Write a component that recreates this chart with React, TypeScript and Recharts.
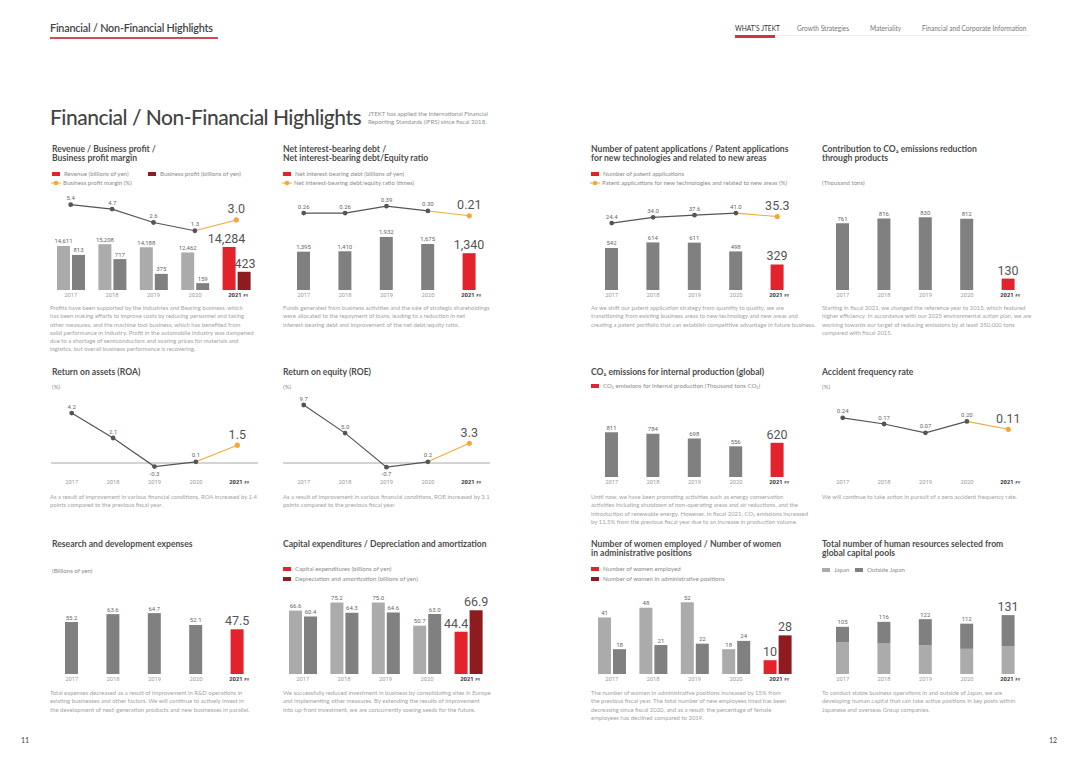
import React from 'react';
import { ComposedChart, Bar, Line, XAxis, YAxis, Cell, LabelList, ReferenceLine } from 'recharts';

// fiscal years shown on every chart (2021 is highlighted)
const years = ['2017', '2018', '2019', '2020', '2021'];

// row 1
const revenue = [14611, 15208, 14188, 12462, 14284];
const businessProfit = [813, 717, 375, 159, 423];
const profitMargin = [5.4, 4.7, 2.6, 1.3, 3.0];
const netDebt = [1395, 1410, 1932, 1675, 1340];
const debtEquity = [0.26, 0.26, 0.39, 0.3, 0.21];
const patents = [542, 614, 611, 498, 329];
const patentNewShare = [24.4, 34.0, 37.6, 41.0, 35.3];
const co2Reduction = [761, 816, 830, 812, 130];

// row 2
const roa = [4.2, 2.1, -0.3, 0.1, 1.5];
const roe = [9.7, 5.0, -0.7, 0.2, 3.3];
const co2Internal = [811, 784, 698, 556, 620];
const accidentRate = [0.24, 0.17, 0.07, 0.2, 0.11];

// row 3
const rnd = [55.2, 63.6, 64.7, 52.1, 47.5];
const capex = [66.6, 75.2, 75.0, 50.7, 44.4];
const depreciation = [60.4, 64.3, 64.6, 63.0, 66.9];
const womenEmployed = [41, 48, 52, 18, 10];
const womenAdmin = [18, 21, 22, 24, 28];
const poolJapan = [71, 69, 64, 56, 62];
const poolOverseas = [34, 47, 58, 56, 69];
const poolTotal = [105, 116, 122, 112, 131];

const RED = '#e3232c';
const DARK_RED = '#8e1b1f';
const LIGHT = '#ababab';
const MID = '#808080';
const LINE = '#555555';
const ORANGE = '#f2a93b';
const FONT = "Lato, 'Open Sans', sans-serif";
const NUM = "Roboto, 'Liberation Sans', sans-serif";
const MT = 14; // headroom above each plot for value labels

const table = (cols: Record<string, number[]>) =>
  years.map((year, i) => {
    const row: Record<string, string | number | null> = { year };
    Object.entries(cols).forEach(([k, vals]) => {
      row[k] = vals[i];
      row[k + 'Base'] = i < 4 ? vals[i] : null;
      row[k + 'Hi'] = i >= 3 ? vals[i] : null;
    });
    return row;
  });

const comma = (v: number) => v.toLocaleString('en-US');
const f1 = (v: number) => v.toFixed(1);
const f2 = (v: number) => v.toFixed(2);
const int = (v: number) => String(v);

const YearTick = (p: any) => {
  const { x, y, payload } = p;
  if (payload.value === '2021') {
    return (
      <text x={x - 8} y={y} dy="0.71em" fontFamily={NUM} fontSize={5.8} fill="#333" fontWeight={700}>
        2021
        <tspan fontSize={3.8} dx={2}>FY</tspan>
      </text>
    );
  }
  return (
    <text x={x} y={y} dy="0.71em" textAnchor="middle" fontFamily={NUM} fontSize={5.8} fill="#9a9a9a">
      {payload.value}
    </text>
  );
};

const valueLabel =
  (fmt: (v: number) => string, bigDx = 0, which: 'all' | 'base' | 'hi' = 'all') =>
  (p: any) => {
    const vb = p.viewBox ?? {};
    const x = vb.x ?? p.x;
    const y = vb.y ?? p.y;
    const w = vb.width ?? p.width ?? 0;
    const v = p.value;
    if (v == null || x == null || y == null || Number.isNaN(y)) return null;
    if (which === 'base' && p.index >= 4) return null;
    if (which === 'hi' && p.index !== 4) return null;
    const cx = x + w / 2;
    if (p.index === 4) {
      return (
        <text x={cx + bigDx} y={y - (w ? 4 : 6.5)} textAnchor="middle" fontFamily={NUM} fontSize={12.5} fill="#555">
          {fmt(v)}
        </text>
      );
    }
    const below = v < 0;
    return (
      <text x={cx} y={below ? y + 9 : y - (w ? 2.5 : 4.5)} textAnchor="middle" fontFamily={NUM} fontSize={6} fill="#666">
        {fmt(v)}
      </text>
    );
  };

type BarSpec = {
  key: string;
  axis: string;
  fill: string;
  hi: string;
  fmt?: (v: number) => string;
  bigDx?: number;
  stack?: string;
  labelKey?: string;
  noLabel?: boolean;
};

type ChartProps = {
  left: number;
  top: number;
  h: number;
  data: Record<string, string | number | null>[];
  domains: Record<string, [number, number]>;
  bars?: BarSpec[];
  line?: { key: string; fmt: (v: number) => string };
  zero?: boolean;
};

function MiniChart({ left, top, h, data, domains, bars = [], line, zero }: ChartProps) {
  return (
    <div style={{ position: 'absolute', left, top: top - MT }}>
      <ComposedChart width={207} height={h + 16 + MT} data={data} margin={{ top: MT, right: 0, bottom: 0, left: 0 }} barGap={2}>
        <XAxis
          dataKey="year"
          scale="band"
          height={16}
          tickLine={false}
          axisLine={false}
          tickSize={0}
          tickMargin={3}
          interval={0}
          tick={<YearTick />}
        />
        {Object.entries(domains).map(([id, d]) => (
          <YAxis key={id} yAxisId={id} hide domain={d} allowDataOverflow />
        ))}
        {zero && <ReferenceLine yAxisId="line" y={0} stroke="#c6c6c6" strokeWidth={1.5} />}
        {bars.map((b) => (
          <Bar key={b.key} dataKey={b.key} yAxisId={b.axis} stackId={b.stack} barSize={13} fill={b.fill} isAnimationActive={false}>
            {data.map((_, i) => (
              <Cell key={i} fill={i === 4 ? b.hi : b.fill} />
            ))}
            {!b.noLabel && <LabelList dataKey={b.labelKey ?? b.key} content={valueLabel(b.fmt ?? int, b.bigDx ?? 0)} />}
          </Bar>
        ))}
        {line && (
          <Line
            yAxisId="line"
            dataKey={line.key + 'Base'}
            stroke={LINE}
            strokeWidth={1.2}
            dot={{ r: 2.4, fill: LINE, stroke: LINE, strokeWidth: 0 }}
            isAnimationActive={false}
          >
            <LabelList dataKey={line.key + 'Base'} content={valueLabel(line.fmt, 0, 'base')} />
          </Line>
        )}
        {line && (
          <Line
            yAxisId="line"
            dataKey={line.key + 'Hi'}
            stroke={ORANGE}
            strokeWidth={1.1}
            dot={(p: any) =>
              p.index === 4 ? <circle key="hi-dot" cx={p.cx} cy={p.cy} r={2.6} fill={ORANGE} /> : <g key={`n${p.index}`} />
            }
            isAnimationActive={false}
          >
            <LabelList dataKey={line.key + 'Hi'} content={valueLabel(line.fmt, 0, 'hi')} />
          </Line>
        )}
      </ComposedChart>
    </div>
  );
}

const Title = ({ x, y, lines }: { x: number; y: number; lines: string[] }) => (
  <div style={{ position: 'absolute', left: x, top: y, fontFamily: FONT, fontWeight: 700, fontSize: 8.6, lineHeight: '9.4px', color: '#4d4d4d', whiteSpace: 'nowrap' }}>
    {lines.map((l) => (
      <div key={l}>{l}</div>
    ))}
  </div>
);

const Small = ({ x, y, children, c = '#8a8a8a', s = 6.1 }: { x: number; y: number; children: React.ReactNode; c?: string; s?: number }) => (
  <div style={{ position: 'absolute', left: x, top: y - 4, fontFamily: FONT, fontSize: s, lineHeight: '8px', color: c, whiteSpace: 'nowrap' }}>
    {children}
  </div>
);

const Swatch = ({ x, y, color, label }: { x: number; y: number; color: string; label: string }) => (
  <>
    <div style={{ position: 'absolute', left: x, top: y - 2.2, width: 8, height: 4.5, background: color }} />
    <Small x={x + 12} y={y}>{label}</Small>
  </>
);

const LineKey = ({ x, y, label }: { x: number; y: number; label: string }) => (
  <>
    <svg style={{ position: 'absolute', left: x, top: y - 3 }} width={10} height={6}>
      <line x1={0} y1={3} x2={10} y2={3} stroke={ORANGE} strokeWidth={1} />
      <circle cx={5} cy={3} r={2.3} fill={ORANGE} />
    </svg>
    <Small x={x + 12} y={y}>{label}</Small>
  </>
);

const Desc = ({ x, y, lines }: { x: number; y: number; lines: string[] }) => (
  <div style={{ position: 'absolute', left: x, top: y, fontFamily: FONT, fontSize: 5.95, lineHeight: '8.3px', color: '#a3a3a3', whiteSpace: 'nowrap' }}>
    {lines.map((l) => (
      <div key={l}>{l}</div>
    ))}
  </div>
);

export default function App() {
  return (
    <div style={{ position: 'absolute', left: 0, top: 0, width: 1080, height: 764, background: '#fff', overflow: 'hidden', fontFamily: FONT }}>
      {/* running header */}
      <div style={{ position: 'absolute', left: 50, top: 21, fontSize: 10.8, fontWeight: 600, color: '#444', whiteSpace: 'nowrap', letterSpacing: -0.2 }}>
        Financial / Non-Financial Highlights
      </div>
      <div style={{ position: 'absolute', left: 50, top: 37, width: 168, height: 2, background: '#d24a54' }} />
      <div style={{ position: 'absolute', left: 735, top: 35, width: 295, height: 1, background: '#eeeeee' }} />
      <div style={{ position: 'absolute', left: 735, top: 35, width: 40, height: 3, background: '#d2343e' }} />
      <Small x={735} y={28} c="#333" s={6.6}>WHAT'S JTEKT</Small>
      <Small x={797} y={28} c="#777" s={6.6}>Growth Strategies</Small>
      <Small x={870} y={28} c="#777" s={6.6}>Materiality</Small>
      <Small x={922} y={28} c="#777" s={6.6}>Financial and Corporate Information</Small>

      {/* page title */}
      <div style={{ position: 'absolute', left: 50, top: 104, fontSize: 21, fontWeight: 500, color: '#444', whiteSpace: 'nowrap', letterSpacing: -0.5 }}>
        Financial / Non-Financial Highlights
      </div>
      <div style={{ position: 'absolute', left: 368, top: 110, fontSize: 6.1, lineHeight: '8px', color: '#8f8f8f', whiteSpace: 'nowrap' }}>
        <div>JTEKT has applied the International Financial</div>
        <div>Reporting Standards (IFRS) since fiscal 2018.</div>
      </div>

      {/* row 1 */}
      <Title x={52} y={145} lines={['Revenue / Business profit /', 'Business profit margin']} />
      <Swatch x={52} y={174} color={RED} label="Revenue (billions of yen)" />
      <Swatch x={148} y={174} color={DARK_RED} label="Business profit (billions of yen)" />
      <LineKey x={51} y={183} label="Business profit margin (%)" />
      <MiniChart
        left={50}
        top={190}
        h={100}
        data={table({ revenue, businessProfit, profitMargin })}
        domains={{ rev: [0, 33200], bp: [0, 2320], line: [-8.0, 7.7] }}
        bars={[
          { key: 'revenue', axis: 'rev', fill: LIGHT, hi: RED, fmt: comma, bigDx: -2.5 },
          { key: 'businessProfit', axis: 'bp', fill: MID, hi: DARK_RED, fmt: comma, bigDx: 1 },
        ]}
        line={{ key: 'profitMargin', fmt: f1 }}
      />
      <Desc
        x={50}
        y={304}
        lines={[
          'Profits have been supported by the Industries and Bearing business, which',
          'has been making efforts to improve costs by reducing personnel and taking',
          'other measures, and the machine tool business, which has benefited from',
          'solid performance in Industry. Profit in the automobile industry was dampened',
          'due to a shortage of semiconductors and soaring prices for materials and',
          'logistics, but overall business performance is recovering.',
        ]}
      />

      <Title x={283} y={145} lines={['Net interest-bearing debt /', 'Net interest-bearing debt/Equity ratio']} />
      <Swatch x={283} y={174} color={RED} label="Net interest-bearing debt (billions of yen)" />
      <LineKey x={282} y={183} label="Net interest-bearing debt/equity ratio (times)" />
      <MiniChart
        left={283}
        top={190}
        h={100}
        data={table({ netDebt, debtEquity })}
        domains={{ debt: [0, 3640], line: [-1.17, 0.69] }}
        bars={[{ key: 'netDebt', axis: 'debt', fill: MID, hi: RED, fmt: comma }]}
        line={{ key: 'debtEquity', fmt: f2 }}
      />
      <Desc
        x={283}
        y={304}
        lines={[
          'Funds generated from business activities and the sale of strategic shareholdings',
          'were allocated to the repayment of loans, leading to a reduction in net',
          'interest-bearing debt and improvement of the net debt/equity ratio.',
        ]}
      />

      <Title x={591} y={145} lines={['Number of patent applications / Patent applications', 'for new technologies and related to new areas']} />
      <Swatch x={591} y={174} color={RED} label="Number of patent applications" />
      <LineKey x={590} y={183} label="Patent applications for new technologies and related to new areas (%)" />
      <MiniChart
        left={591}
        top={190}
        h={100}
        data={table({ patents, patentNewShare })}
        domains={{ pat: [0, 1290], line: [-87, 79.5] }}
        bars={[{ key: 'patents', axis: 'pat', fill: MID, hi: RED }]}
        line={{ key: 'patentNewShare', fmt: f1 }}
      />
      <Desc
        x={591}
        y={304}
        lines={[
          'As we shift our patent application strategy from quantity to quality, we are',
          'transitioning from existing business areas to new technology and new areas and',
          'creating a patent portfolio that can establish competitive advantage in future business.',
        ]}
      />

      <Title x={822} y={145} lines={['Contribution to CO₂ emissions reduction', 'through products']} />
      <Small x={822} y={183}>(Thousand tons)</Small>
      <MiniChart
        left={822}
        top={190}
        h={100}
        data={table({ co2Reduction })}
        domains={{ co2: [0, 1140] }}
        bars={[{ key: 'co2Reduction', axis: 'co2', fill: MID, hi: RED }]}
      />
      <Desc
        x={822}
        y={304}
        lines={[
          'Starting in fiscal 2021, we changed the reference year to 2015, which featured',
          'higher efficiency. In accordance with our 2025 environmental action plan, we are',
          'working towards our target of reducing emissions by at least 350,000 tons',
          'compared with fiscal 2015.',
        ]}
      />

      {/* row 2 */}
      <Title x={52} y={368} lines={['Return on assets (ROA)']} />
      <Small x={52} y={387}>(%)</Small>
      <MiniChart left={51} top={397} h={80} data={table({ roa })} domains={{ line: [-1.18, 5.55] }} line={{ key: 'roa', fmt: f1 }} zero />
      <Desc
        x={50}
        y={493}
        lines={['As a result of improvement in various financial conditions, ROA increased by 1.4', 'points compared to the previous fiscal year.']}
      />

      <Title x={283} y={368} lines={['Return on equity (ROE)']} />
      <Small x={283} y={387}>(%)</Small>
      <MiniChart left={283} top={397} h={80} data={table({ roe })} domains={{ line: [-2.34, 11.04] }} line={{ key: 'roe', fmt: f1 }} zero />
      <Desc
        x={283}
        y={493}
        lines={['As a result of improvement in various financial conditions, ROE increased by 3.1', 'points compared to the previous fiscal year.']}
      />

      <Title x={591} y={368} lines={['CO₂ emissions for internal production (global)']} />
      <Swatch x={591} y={386} color={RED} label="CO₂ emissions for internal production (Thousand tons CO₂)" />
      <MiniChart
        left={591}
        top={397}
        h={80}
        data={table({ co2Internal })}
        domains={{ co2: [0, 1450] }}
        bars={[{ key: 'co2Internal', axis: 'co2', fill: MID, hi: RED }]}
      />
      <Desc
        x={591}
        y={493}
        lines={[
          'Until now, we have been promoting activities such as energy conservation',
          'activities including shutdown of non-operating areas and air reductions, and the',
          'introduction of renewable energy. However, in fiscal 2021, CO₂ emissions increased',
          'by 11.5% from the previous fiscal year due to an increase in production volume.',
        ]}
      />

      <Title x={822} y={368} lines={['Accident frequency rate']} />
      <Small x={822} y={387}>(%)</Small>
      <MiniChart left={822} top={397} h={80} data={table({ accidentRate })} domains={{ line: [-0.432, 0.477] }} line={{ key: 'accidentRate', fmt: f2 }} />
      <Desc x={822} y={493} lines={['We will continue to take action in pursuit of a zero accident frequency rate.']} />

      {/* row 3 */}
      <Title x={52} y={540} lines={['Research and development expenses']} />
      <Small x={52} y={571}>(Billions of yen)</Small>
      <MiniChart
        left={51}
        top={594}
        h={80}
        data={table({ rnd })}
        domains={{ rnd: [0, 85] }}
        bars={[{ key: 'rnd', axis: 'rnd', fill: MID, hi: RED, fmt: f1 }]}
      />
      <Desc
        x={50}
        y={689}
        lines={[
          'Total expenses decreased as a result of improvement in R&D operations in',
          'existing businesses and other factors. We will continue to actively invest in',
          'the development of next-generation products and new businesses in parallel.',
        ]}
      />

      <Title x={283} y={540} lines={['Capital expenditures / Depreciation and amortization']} />
      <Swatch x={283} y={569} color={RED} label="Capital expenditures (billions of yen)" />
      <Swatch x={283} y={579} color={DARK_RED} label="Depreciation and amortization (billions of yen)" />
      <MiniChart
        left={282}
        top={594}
        h={80}
        data={table({ capex, depreciation })}
        domains={{ cap: [0, 84] }}
        bars={[
          { key: 'capex', axis: 'cap', fill: LIGHT, hi: RED, fmt: f1, bigDx: -5 },
          { key: 'depreciation', axis: 'cap', fill: MID, hi: DARK_RED, fmt: f1 },
        ]}
      />
      <Desc
        x={283}
        y={689}
        lines={[
          'We successfully reduced investment in business by consolidating sites in Europe',
          'and implementing other measures. By extending the results of improvement',
          'into up-front investment, we are concurrently sowing seeds for the future.',
        ]}
      />

      <Title x={591} y={540} lines={['Number of women employed / Number of women', 'in administrative positions']} />
      <Swatch x={591} y={569} color={RED} label="Number of women employed" />
      <Swatch x={591} y={579} color={DARK_RED} label="Number of women in administrative positions" />
      <MiniChart
        left={591}
        top={594}
        h={80}
        data={table({ womenEmployed, womenAdmin })}
        domains={{ w: [0, 58] }}
        bars={[
          { key: 'womenEmployed', axis: 'w', fill: LIGHT, hi: RED },
          { key: 'womenAdmin', axis: 'w', fill: MID, hi: DARK_RED },
        ]}
      />
      <Desc
        x={591}
        y={689}
        lines={[
          'The number of women in administrative positions increased by 15% from',
          'the previous fiscal year. The total number of new employees hired has been',
          'decreasing since fiscal 2020, and as a result, the percentage of female',
          'employees has declined compared to 2019.',
        ]}
      />

      <Title x={822} y={540} lines={['Total number of human resources selected from', 'global capital pools']} />
      <Swatch x={822} y={570} color={LIGHT} label="Japan" />
      <Swatch x={855} y={570} color={MID} label="Outside Japan" />
      <MiniChart
        left={822}
        top={594}
        h={80}
        data={table({ poolJapan, poolOverseas, poolTotal })}
        domains={{ pool: [0, 178] }}
        bars={[
          { key: 'poolJapan', axis: 'pool', stack: 'p', fill: LIGHT, hi: LIGHT, noLabel: true },
          { key: 'poolOverseas', axis: 'pool', stack: 'p', fill: MID, hi: MID, labelKey: 'poolTotal' },
        ]}
      />
      <Desc
        x={822}
        y={689}
        lines={[
          'To conduct stable business operations in and outside of Japan, we are',
          'developing human capital that can take active positions in key posts within',
          'Japanese and overseas Group companies.',
        ]}
      />

      <div style={{ position: 'absolute', left: 21, top: 736, fontSize: 7, color: '#444' }}>11</div>
      <div style={{ position: 'absolute', left: 1049, top: 736, fontSize: 7, color: '#444' }}>12</div>
    </div>
  );
}
